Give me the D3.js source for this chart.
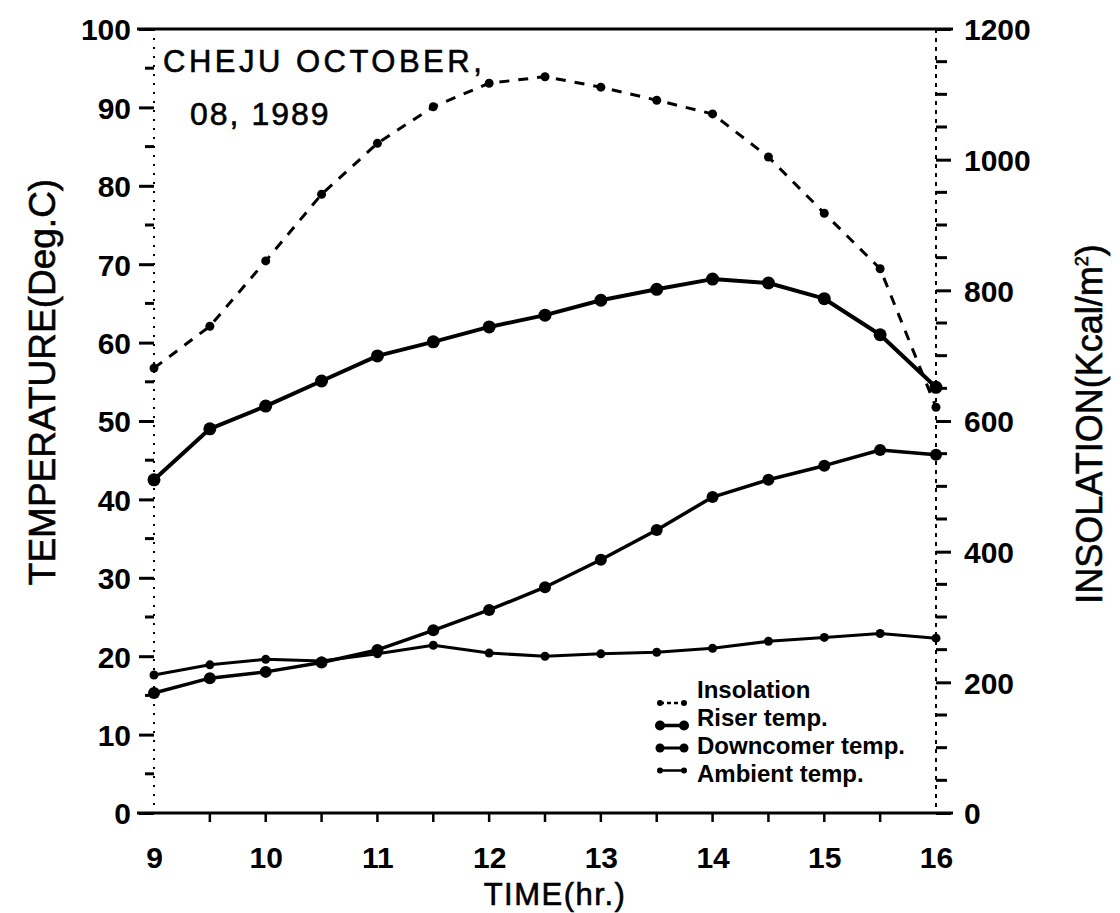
<!DOCTYPE html>
<html>
<head>
<meta charset="utf-8">
<script src="https://cdn.jsdelivr.net/npm/d3@7"></script>
<style>
  html, body { margin: 0; padding: 0; background: #fff; }
  svg { display: block; }
  text { font-family: "Liberation Sans", Arial, Helvetica, sans-serif; fill: #000; }
  .heavy { stroke: #000; stroke-width: 0.6px; }
</style>
</head>
<body>
<svg id="chart" width="1120" height="913"></svg>
<script>
// Hourly readings, CHEJU, October 08, 1989
const times = [9, 9.5, 10, 10.5, 11, 11.5, 12, 12.5, 13, 13.5, 14, 14.5, 15, 15.5, 16];
const insolation = [681, 745, 845, 947, 1025, 1081, 1117, 1127, 1111, 1091, 1070, 1004, 918, 833, 621];
const riserTemp = [42.5, 49.0, 51.9, 55.1, 58.3, 60.1, 62.0, 63.5, 65.4, 66.8, 68.1, 67.6, 65.6, 61.0, 54.3];
const downcomerTemp = [15.3, 17.2, 18.0, 19.2, 20.8, 23.3, 25.9, 28.8, 32.3, 36.1, 40.3, 42.5, 44.3, 46.3, 45.7];
const ambientTemp = [17.6, 18.9, 19.6, 19.4, 20.3, 21.4, 20.4, 20.0, 20.3, 20.5, 21.0, 21.9, 22.4, 22.9, 22.3];

const xTicks = [9, 10, 11, 12, 13, 14, 15, 16];
const tempTicks = [0, 10, 20, 30, 40, 50, 60, 70, 80, 90, 100];
const insolTicks = [0, 200, 400, 600, 800, 1000, 1200];
const legendLabels = ["Insolation", "Riser temp.", "Downcomer temp.", "Ambient temp."];

const svg = d3.select("#chart");

const x = d3.scaleLinear().domain([9, 16]).range([154, 936]);
const yT = d3.scaleLinear().domain([0, 100]).range([813, 29]);
const yI = d3.scaleLinear().domain([0, 1200]).range([813, 29]);
const plain = d3.format("d");

// frame: solid top and bottom rules, dotted side axes
svg.append("line").attr("x1", 137).attr("x2", 953).attr("y1", yT(100)).attr("y2", yT(100))
  .attr("stroke", "#000").attr("stroke-width", 3);
svg.append("line").attr("x1", 137).attr("x2", 953).attr("y1", yT(0)).attr("y2", yT(0))
  .attr("stroke", "#000").attr("stroke-width", 3);
svg.append("line").attr("x1", x(9)).attr("x2", x(9)).attr("y1", yT(100)).attr("y2", yT(0))
  .attr("stroke", "#000").attr("stroke-width", 2).attr("stroke-dasharray", "2,7");
svg.append("line").attr("x1", x(16)).attr("x2", x(16)).attr("y1", yT(100)).attr("y2", yT(0))
  .attr("stroke", "#000").attr("stroke-width", 2).attr("stroke-dasharray", "4,5");

// left axis (temperature)
const leftAxis = d3.axisLeft(yT).tickValues(tempTicks).tickFormat(plain).tickSize(15).tickPadding(8);
const gL = svg.append("g").attr("transform", `translate(${x(9)},0)`).call(leftAxis);
gL.select(".domain").remove();
gL.selectAll(".tick line").attr("stroke-width", 3);
gL.selectAll(".tick text").attr("font-size", 30).attr("font-weight", "bold")
  .attr("font-family", "Liberation Sans, Arial, sans-serif").attr("dy", "0.36em");
gL.selectAll(".minor").data(d3.range(5, 100, 10)).enter().append("line")
  .attr("x1", -9).attr("x2", 0).attr("y1", d => yT(d)).attr("y2", d => yT(d))
  .attr("stroke", "#000").attr("stroke-width", 3);

// right axis (insolation)
const rightAxis = d3.axisRight(yI).tickValues(insolTicks).tickFormat(plain).tickSize(15).tickPadding(13);
const gR = svg.append("g").attr("transform", `translate(${x(16)},0)`).call(rightAxis);
gR.select(".domain").remove();
gR.selectAll(".tick line").attr("stroke-width", 3);
gR.selectAll(".tick text").attr("font-size", 30).attr("font-weight", "bold")
  .attr("font-family", "Liberation Sans, Arial, sans-serif").attr("dy", "0.36em");
gR.selectAll(".minor").data(d3.range(50, 1200, 50).filter(d => d % 200 !== 0)).enter().append("line")
  .attr("x1", 0).attr("x2", 11).attr("y1", d => yI(d)).attr("y2", d => yI(d))
  .attr("stroke", "#000").attr("stroke-width", 3);

// bottom axis (time)
const bottomAxis = d3.axisBottom(x).tickValues(xTicks).tickFormat(plain).tickSize(0).tickPadding(34);
const gB = svg.append("g").attr("transform", `translate(0,${yT(0)})`).call(bottomAxis);
gB.select(".domain").remove();
gB.selectAll(".tick text").attr("font-size", 30).attr("font-weight", "bold")
  .attr("font-family", "Liberation Sans, Arial, sans-serif");
gB.selectAll(".half").data(d3.range(9.5, 16, 0.5)).enter().append("line")
  .attr("x1", d => x(d)).attr("x2", d => x(d)).attr("y1", 0).attr("y2", 9)
  .attr("stroke", "#000").attr("stroke-width", 2.5);

// axis titles
svg.append("text").attr("class", "heavy").attr("x", 555).attr("y", 905).attr("text-anchor", "middle")
  .attr("font-size", 31).attr("letter-spacing", 1.5).text("TIME(hr.)");
svg.append("text").attr("class", "heavy").attr("transform", "translate(55,382) rotate(-90)")
  .attr("text-anchor", "middle").attr("font-size", 37).text("TEMPERATURE(Deg.C)");
const insTitle = svg.append("text").attr("class", "heavy").attr("transform", "translate(1102,424) rotate(-90)")
  .attr("text-anchor", "middle").attr("font-size", 36);
insTitle.append("tspan").text("INSOLATION(Kcal/m");
insTitle.append("tspan").attr("font-size", 18).attr("dy", -14).text("2");
insTitle.append("tspan").attr("dy", 14).text(")");

// chart caption
svg.append("text").attr("class", "heavy").attr("x", 163).attr("y", 72).attr("font-size", 31)
  .attr("letter-spacing", 3.5).text("CHEJU OCTOBER,");
svg.append("text").attr("class", "heavy").attr("x", 190).attr("y", 125).attr("font-size", 32)
  .attr("letter-spacing", 2).text("08, 1989");

// series
const series = [
  { name: legendLabels[0], values: insolation, y: yI, width: 3, dash: "10,9", r: 4.5 },
  { name: legendLabels[1], values: riserTemp, y: yT, width: 4, dash: null, r: 6.5 },
  { name: legendLabels[2], values: downcomerTemp, y: yT, width: 3.5, dash: null, r: 6 },
  { name: legendLabels[3], values: ambientTemp, y: yT, width: 3, dash: null, r: 4.5 }
];

series.forEach(s => {
  const line = d3.line().x((d, i) => x(times[i])).y(d => s.y(d));
  svg.append("path").datum(s.values).attr("d", line).attr("fill", "none")
    .attr("stroke", "#000").attr("stroke-width", s.width)
    .attr("stroke-dasharray", s.dash).attr("stroke-linejoin", "round");
  svg.append("g").selectAll("circle").data(s.values).enter().append("circle")
    .attr("cx", (d, i) => x(times[i])).attr("cy", d => s.y(d)).attr("r", s.r).attr("fill", "#000");
});

// legend
const lg = svg.append("g");
series.forEach((s, i) => {
  const my = 703 + i * 22.5;
  lg.append("line").attr("x1", 660).attr("x2", 684).attr("y1", my).attr("y2", my)
    .attr("stroke", "#000").attr("stroke-width", s.width - 0.5).attr("stroke-dasharray", s.dash ? "4,3" : null);
  [660, 684].forEach(cx => lg.append("circle").attr("cx", cx).attr("cy", my)
    .attr("r", Math.max(3, s.r - 1.5)).attr("fill", "#000"));
  lg.append("text").attr("x", 697).attr("y", 698 + i * 28).attr("font-size", 24)
    .attr("font-weight", "bold").text(s.name);
});
</script>
</body>
</html>
